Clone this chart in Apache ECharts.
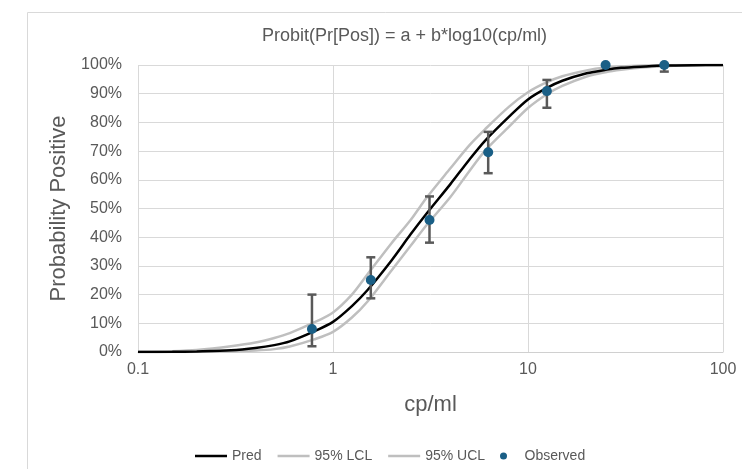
<!DOCTYPE html>
<html lang="en">
<head>
    <meta charset="UTF-8">
    <title>Probit</title>
    <script src="https://cdn.jsdelivr.net/npm/echarts@6/dist/echarts.min.js"></script>
    <style>
        html, body { margin: 0; padding: 0; background: #fff; }
        #main { width: 742px; height: 469px; }
    </style>
</head>
<body>
    <div id="main"></div>
    <script>
        // 曲线的 x 点 (cp/ml) 和概率 (%)
        var xGrid = [0.1, 0.15, 0.2, 0.3, 0.4, 0.5, 0.6, 0.8, 1, 1.25, 1.5, 2, 2.5, 3, 4, 5, 6, 8, 10, 12.5, 15, 20, 25, 30, 40, 50, 70, 100];
        var pred = [0, 0.05, 0.2, 0.6, 1.4, 2.4, 3.7, 7.2, 10.5, 16, 21.5, 32, 41, 48, 58.5, 67, 73.5, 82, 88, 92, 94.5, 97.1, 98.3, 99, 99.5, 99.8, 99.95, 100];
        var ucl = [0.1, 0.3, 0.7, 2.0, 3.3, 4.9, 6.6, 10.3, 13.8, 20, 27, 38, 46, 53.5, 64, 72, 77.5, 85.5, 90.5, 94, 96.1, 98.1, 99.1, 99.5, 99.8, 99.9, 100, 100];
        var lcl = [0, 0, 0.05, 0.2, 0.5, 1.0, 1.9, 4.4, 7.0, 12, 17.5, 28.5, 37, 44, 54, 63, 70, 78.5, 85, 89.8, 92.7, 96, 97.5, 98.3, 99.2, 99.6, 99.9, 99.97];

        // 观测点和误差线
        var obsX = [0.78, 1.5625, 3.125, 6.25, 12.5, 25, 50];
        var obsY = [8, 25.1, 46, 69.6, 90.9, 100, 100];
        var obsLow = [2, 18.7, 38.1, 62.3, 85.1, 100, 97.7];
        var obsHigh = [20, 33, 54.2, 76.7, 94.8, 100, 100];

        function pairs(xs, ys) {
            return xs.map(function (x, i) { return [x, ys[i]]; });
        }

        var textColor = '#595959';
        var font = "'Liberation Sans', Arial, sans-serif";

        var myChart = echarts.init(document.getElementById('main'));

        var option = {
            animation: false,
            textStyle: { fontFamily: font, color: textColor },
            graphic: [{
                type: 'rect',
                left: 25, top: 10,
                shape: { width: 800, height: 600 },
                style: { fill: 'none', stroke: '#d9d9d9', lineWidth: 1 },
                silent: true
            }],
            title: {
                text: 'Probit(Pr[Pos]) = a + b*log10(cp/ml)',
                left: 257,
                top: 22,
                textStyle: { fontSize: 18, fontWeight: 'normal', color: textColor, fontFamily: font }
            },
            legend: [{
                left: 190,
                top: 444,
                itemWidth: 32,
                itemHeight: 2.5,
                itemGap: 16,
                icon: 'rect',
                textStyle: { fontSize: 14, color: textColor, fontFamily: font },
                data: ['Pred', '95% LCL', '95% UCL']
            }, {
                left: 495,
                top: 444,
                itemWidth: 32,
                itemHeight: 7,
                textStyle: { fontSize: 14, color: textColor, fontFamily: font },
                data: [{ name: 'Observed', icon: 'circle' }]
            }],
            grid: {
                left: 138,
                right: 19,
                top: 65,
                bottom: 117
            },
            xAxis: {
                type: 'log',
                logBase: 10,
                min: 0.1,
                max: 100,
                name: 'cp/ml',
                nameLocation: 'middle',
                nameGap: 42,
                nameTextStyle: { fontSize: 22, color: textColor, fontFamily: font },
                axisLine: { lineStyle: { color: '#d0d0d0', width: 1 } },
                axisTick: { show: false },
                axisLabel: { fontSize: 16, color: textColor, margin: 10, fontFamily: font },
                splitLine: { show: true, lineStyle: { color: '#d9d9d9', width: 1 } }
            },
            yAxis: {
                type: 'value',
                min: 0,
                max: 100,
                interval: 10,
                name: 'Probability Positive',
                nameLocation: 'middle',
                nameGap: 68,
                nameTextStyle: { fontSize: 22, color: textColor, fontFamily: font },
                axisLine: { show: false },
                axisTick: { show: false },
                axisLabel: { fontSize: 16, color: textColor, margin: 16, fontFamily: font, formatter: '{value}%' },
                splitLine: { lineStyle: { color: '#d9d9d9', width: 1 } }
            },
            series: [
                {
                    name: '95% LCL',
                    type: 'line',
                    smooth: 0.3,
                    symbol: 'none',
                    lineStyle: { color: '#bfbfbf', width: 2.5 },
                    itemStyle: { color: '#bfbfbf' },
                    data: pairs(xGrid, lcl),
                    z: 2
                },
                {
                    name: '95% UCL',
                    type: 'line',
                    smooth: 0.3,
                    symbol: 'none',
                    lineStyle: { color: '#bfbfbf', width: 2.5 },
                    itemStyle: { color: '#bfbfbf' },
                    data: pairs(xGrid, ucl),
                    z: 2
                },
                {
                    name: 'Pred',
                    type: 'line',
                    smooth: 0.3,
                    symbol: 'none',
                    lineStyle: { color: '#000000', width: 2.5 },
                    itemStyle: { color: '#000000' },
                    data: pairs(xGrid, pred),
                    z: 3
                },
                {
                    // 误差线
                    name: 'err',
                    type: 'custom',
                    z: 4,
                    data: obsX.map(function (x, i) { return [x, obsLow[i], obsHigh[i]]; }),
                    encode: { x: 0, y: [1, 2] },
                    renderItem: function (params, api) {
                        var x = api.value(0);
                        var lo = api.coord([x, api.value(1)]);
                        var hi = api.coord([x, api.value(2)]);
                        if (Math.abs(lo[1] - hi[1]) < 1) return null;
                        var w = 4.5;
                        var st = { stroke: '#595959', lineWidth: 2.5 };
                        return {
                            type: 'group',
                            children: [
                                { type: 'line', shape: { x1: hi[0], y1: hi[1], x2: lo[0], y2: lo[1] }, style: st },
                                { type: 'line', shape: { x1: hi[0] - w, y1: hi[1], x2: hi[0] + w, y2: hi[1] }, style: st },
                                { type: 'line', shape: { x1: lo[0] - w, y1: lo[1], x2: lo[0] + w, y2: lo[1] }, style: st }
                            ]
                        };
                    }
                },
                {
                    name: 'Observed',
                    type: 'scatter',
                    symbol: 'circle',
                    symbolSize: 10,
                    itemStyle: { color: '#1a5f86', opacity: 1 },
                    data: pairs(obsX, obsY),
                    z: 5
                }
            ]
        };

        myChart.setOption(option);
    </script>
</body>
</html>
